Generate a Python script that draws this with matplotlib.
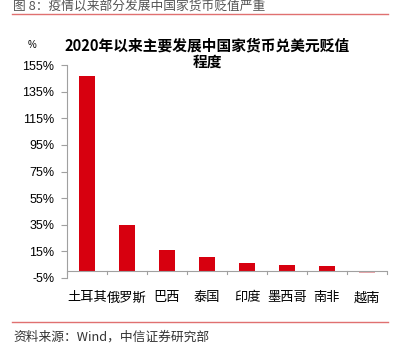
import matplotlib
matplotlib.use("Agg")
import matplotlib.pyplot as plt
import numpy as np

plt.rcParams['font.family'] = ['Noto Sans CJK SC', 'DejaVu Sans']

categories = ["土耳其", "俄罗斯", "巴西", "泰国", "印度", "墨西哥", "南非", "越南"]
values = [147.0, 34.5, 16.3, 11.0, 6.5, 5.0, 4.0, -1.0]
yticks = [-5, 15, 35, 55, 75, 95, 115, 135, 155]

W, H = 401, 354
fig = plt.figure(figsize=(W/100, H/100), dpi=100)

def fx(px): return px / W
def fy(py): return 1 - py / H

ax = fig.add_axes([fx(67), fy(278), fx(387) - fx(67), fy(65) - fy(278)])
x = np.arange(len(categories))
colors = ["#D7000F"] * len(categories)
colors[-1] = "#E9A7AB"
ax.bar(x, values, width=0.4, color=colors, zorder=2)

ax.set_ylim(-5, 155)
ax.set_xlim(-0.5, len(categories) - 0.5)
ax.set_yticks(yticks)
ax.set_yticklabels([f"{v}%" for v in yticks], fontsize=9, family=['Liberation Sans', 'DejaVu Sans'])
ax.set_xticks([])

for s in ["top", "right", "bottom"]:
    ax.spines[s].set_visible(False)
ax.spines["left"].set_color("#A0A0A0")
ax.spines["left"].set_linewidth(0.8)
ax.tick_params(axis='y', direction='out', length=4, color="#A0A0A0", pad=5, labelcolor="#000000")

# zero axis line with tick marks
ax.axhline(0, color="#A0A0A0", lw=0.8, zorder=3)
for b in np.arange(len(categories) + 1) - 0.5:
    ax.plot([b, b], [0, -2.3], color="#A0A0A0", lw=0.8, clip_on=False, zorder=3)
for i, c in enumerate(categories):
    ax.text(i, -20, c, ha="center", va="center", fontsize=9.5, transform=ax.transData)

# title
fig.text(fx(207), fy(45), "2020年以来主要发展中国家货币兑美元贬值", ha="center", va="center",
         fontsize=10.6, fontweight="bold")
fig.text(fx(207), fy(62), "程度", ha="center", va="center", fontsize=10.6, fontweight="bold")
fig.text(fx(32), fy(45), "%", ha="center", va="center", fontsize=7,
         family=['Liberation Sans', 'DejaVu Sans'])

# header and footer
fig.text(fx(13), fy(6), "图 8：疫情以来部分发展中国家货币贬值严重", ha="left", va="center",
         fontsize=9.2, color="#555555")
fig.add_artist(plt.Line2D([fx(12), fx(388)], [fy(14), fy(14)], color="#E07070", lw=1.0))
fig.add_artist(plt.Line2D([fx(12), fx(388)], [fy(322), fy(322)], color="#E07070", lw=1.0))
fig.text(fx(13), fy(337), "资料来源：Wind，中信证券研究部", ha="left", va="center",
         fontsize=9.2, color="#333333")

fig.savefig("out.png", dpi=100)
